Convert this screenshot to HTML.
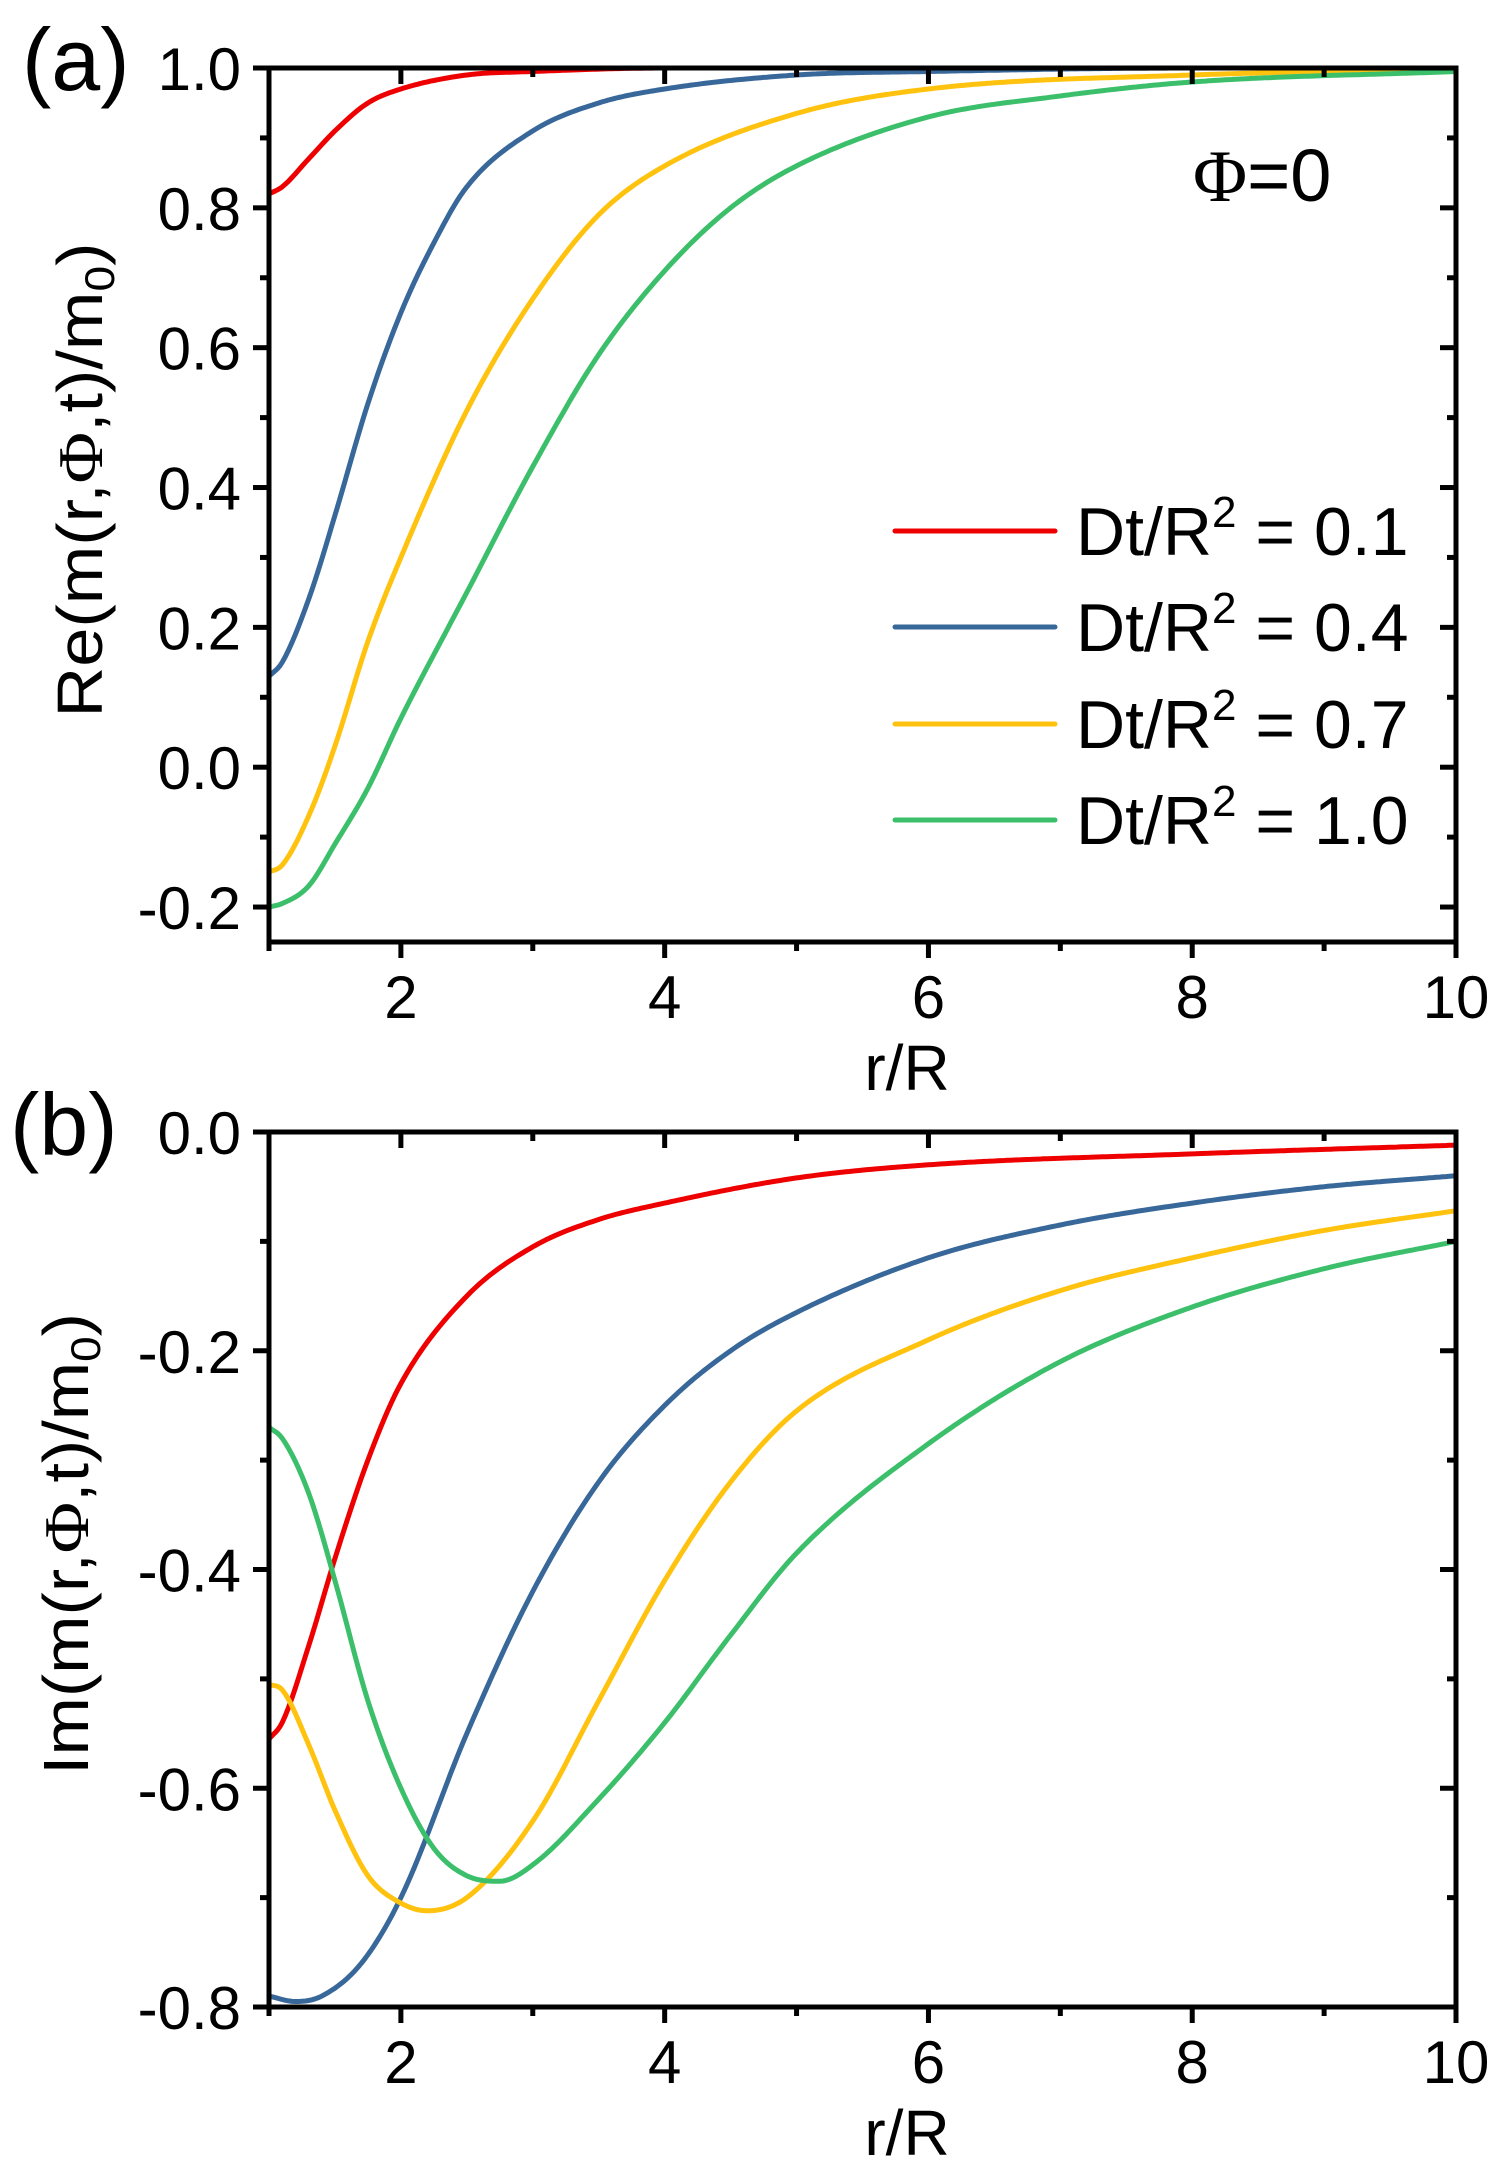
<!DOCTYPE html>
<html><head><meta charset="utf-8"><style>
html,body{margin:0;padding:0;background:#fff}
svg{display:block}
text{font-family:"Liberation Sans",Arial,sans-serif;fill:#000}
</style></head><body>
<svg id="fig" width="1498" height="2174" viewBox="0 0 1498 2174" xmlns="http://www.w3.org/2000/svg">
<g id="pa"></g>
<g id="pb"></g>
</svg>
<script>
const NS="http://www.w3.org/2000/svg";
const seriesLabels=["0.1","0.4","0.7","1.0"];
const seriesColors=["#ee0000","#386799","#ffc20e","#3cbf6a"];
const xTicks=[2,4,6,8,10];
const aYTicks=[1.0,0.8,0.6,0.4,0.2,0.0,-0.2];
const bYTicks=[0.0,-0.2,-0.4,-0.6,-0.8];
// panel a data (x, value)
const aRedX=[1,1.1,1.3,1.5,1.75,2,2.5,3,4,6,10];
const aRedY=[0.82,0.83,0.87,0.91,0.95,0.97,0.99,0.995,1,1,1];
const aBlueX=[1,1.1,1.3,1.5,1.75,2,2.25,2.5,3,3.5,4,5,6,8,10];
const aBlueY=[0.13,0.15,0.24,0.36,0.52,0.65,0.75,0.83,0.91,0.95,0.97,0.99,0.995,1,1];
const aYelX=[1,1.1,1.3,1.5,1.75,2,2.5,3,3.5,4,5,6,8,10];
const aYelY=[-0.15,-0.14,-0.07,0.03,0.18,0.30,0.51,0.67,0.79,0.86,0.935,0.97,0.99,0.998];
const aGrnX=[1,1.1,1.3,1.5,1.75,2,2.5,3,3.5,4,4.5,5,6,7,8,10];
const aGrnY=[-0.2,-0.195,-0.17,-0.11,-0.03,0.07,0.25,0.43,0.59,0.71,0.80,0.86,0.93,0.96,0.98,0.995];
// panel b data
const bRedX=[1,1.1,1.3,1.5,1.75,2,2.5,3,3.5,4,5,6,8,10];
const bRedY=[-0.555,-0.54,-0.47,-0.39,-0.3,-0.23,-0.15,-0.105,-0.08,-0.065,-0.042,-0.03,-0.02,-0.012];
const bBlueX=[1,1.2,1.4,1.7,2,2.5,3,3.5,4,4.5,5,6,7,8,9,10];
const bBlueY=[-0.79,-0.795,-0.79,-0.76,-0.7,-0.55,-0.42,-0.32,-0.25,-0.2,-0.165,-0.115,-0.085,-0.065,-0.05,-0.04];
const bYelX=[1,1.1,1.3,1.5,1.75,2,2.2,2.5,3,3.5,4,4.5,5,6,7,8,9,10];
const bYelY=[-0.505,-0.51,-0.56,-0.62,-0.68,-0.705,-0.712,-0.7,-0.63,-0.52,-0.41,-0.32,-0.255,-0.19,-0.145,-0.115,-0.09,-0.072];
const bGrnX=[1,1.1,1.3,1.5,1.75,2,2.25,2.5,2.75,3,3.5,4,4.5,5,6,7,8,9,10];
const bGrnY=[-0.27,-0.28,-0.33,-0.41,-0.52,-0.6,-0.655,-0.68,-0.685,-0.67,-0.61,-0.54,-0.46,-0.385,-0.285,-0.21,-0.16,-0.125,-0.1];

function el(tag,attrs,parent){const e=document.createElementNS(NS,tag);for(const k in attrs)e.setAttribute(k,attrs[k]);parent.appendChild(e);return e;}
function txt(parent,x,y,s,fs,anchor){const t=el('text',{x:x,y:y,'font-size':fs,'text-anchor':anchor||'start'},parent);t.textContent=s;return t;}
// monotone cubic hermite in data space
function curvePath(xs,ys,sx,sy){
  const n=xs.length,d=[],m=[];
  for(let i=0;i<n-1;i++)d.push((ys[i+1]-ys[i])/(xs[i+1]-xs[i]));
  m[0]=d[0];m[n-1]=d[n-2];
  for(let i=1;i<n-1;i++){m[i]=(d[i-1]*d[i]<=0)?0:(d[i-1]+d[i])/2;}
  for(let i=0;i<n-1;i++){
    if(d[i]===0){m[i]=0;m[i+1]=0;continue;}
    const a=m[i]/d[i],b=m[i+1]/d[i],s=a*a+b*b;
    if(s>9){const t=3/Math.sqrt(s);m[i]=t*a*d[i];m[i+1]=t*b*d[i];}
  }
  let p='M'+sx(xs[0]).toFixed(1)+','+sy(ys[0]).toFixed(1);
  for(let i=0;i<n-1;i++){
    const h=xs[i+1]-xs[i],steps=Math.max(6,Math.ceil(h*40));
    for(let k=1;k<=steps;k++){
      const t=k/steps,t2=t*t,t3=t2*t;
      const y=(2*t3-3*t2+1)*ys[i]+(t3-2*t2+t)*h*m[i]+(-2*t3+3*t2)*ys[i+1]+(t3-t2)*h*m[i+1];
      p+=' L'+sx(xs[i]+t*h).toFixed(1)+','+sy(y).toFixed(1);
    }
  }
  return p;
}

function panel(g,top,bottom,ymin,ymax,yTicks,yMinor,series,names){
  const L=269,R=1456;
  const sx=v=>L+(v-1)/9*(R-L);
  const sy=v=>top+(ymax-v)/(ymax-ymin)*(bottom-top);
  series.forEach((s,i)=>{
    const p=el('path',{d:curvePath(s[0],s[1],sx,sy),fill:'none',stroke:seriesColors[i],'stroke-width':5,'stroke-linejoin':'round'},g);
    
    
  });
  const ax=el('g',{stroke:'#000','stroke-width':5,fill:'none'},g);
  
  
  el('rect',{x:L,y:top,width:R-L,height:bottom-top},ax);
  for(let v=1;v<=10;v++){const x=sx(v),major=v%2===0,len=major?16:9;
    if(v>1&&v<10){el('line',{x1:x,y1:top,x2:x,y2:top+len},ax);}
    el('line',{x1:x,y1:bottom,x2:x,y2:bottom+len},ax);}
  yTicks.forEach(v=>{const y=sy(v);el('line',{x1:L,y1:y,x2:L-16,y2:y},ax);el('line',{x1:R,y1:y,x2:R-16,y2:y},ax);});
  yMinor.forEach(v=>{const y=sy(v);el('line',{x1:L,y1:y,x2:L-9,y2:y},ax);el('line',{x1:R,y1:y,x2:R-9,y2:y},ax);});
  const yl=el('g',{},g);
  
  
  yTicks.forEach(v=>txt(yl,241,sy(v)+22,v.toFixed(1),60,'end'));
  const xl=el('g',{},g);
  
  
  xTicks.forEach(v=>txt(xl,sx(v),bottom+76,String(v),60,'middle'));
  const xt=txt(g,907,bottom+148,'r/R',64,'middle');
  
  
}

const pa=document.getElementById('pa'),pb=document.getElementById('pb');
panel(pa,68,942,-0.25,1.0,aYTicks,[0.9,0.7,0.5,0.3,0.1,-0.1],
  [[aRedX,aRedY],[aBlueX,aBlueY],[aYelX,aYelY],[aGrnX,aGrnY]],
  ['curve-dt-0.1','curve-dt-0.4','curve-dt-0.7','curve-dt-1.0']);
panel(pb,1132,2007,-0.8,0.0,bYTicks,[-0.1,-0.3,-0.5,-0.7],
  [[bRedX,bRedY],[bBlueX,bBlueY],[bYelX,bYelY],[bGrnX,bGrnY]],
  ['curve-dt-0.1','curve-dt-0.4','curve-dt-0.7','curve-dt-1.0']);

let t=txt(pa,22,90,'(a)',88);
t=txt(pb,10,1155,'(b)',88);
t=el('text',{x:1193,y:201,'font-size':74},pa);
t.innerHTML='<tspan font-family="Liberation Serif,serif">Φ</tspan>=0';

t=el('text',{transform:'translate(102,480) rotate(-90)','text-anchor':'middle','font-size':64,textLength:475,lengthAdjust:'spacingAndGlyphs'},pa);
t.innerHTML='Re(m(r,<tspan font-family="Liberation Serif,serif">Φ</tspan>,t)/m<tspan font-size="42" dy="12">0</tspan><tspan dy="-12">)</tspan>';

t=el('text',{transform:'translate(88,1544) rotate(-90)','text-anchor':'middle','font-size':64,textLength:462,lengthAdjust:'spacingAndGlyphs'},pb);
t.innerHTML='Im(m(r,<tspan font-family="Liberation Serif,serif">Φ</tspan>,t)/m<tspan font-size="42" dy="12">0</tspan><tspan dy="-12">)</tspan>';

const lg=el('g',{},pa);


const legY=[531,627,724,820];
seriesLabels.forEach((s,i)=>{
  const row=el('g',{},lg);
  
  
  el('line',{x1:895,y1:legY[i],x2:1055,y2:legY[i],stroke:seriesColors[i],'stroke-width':5,'stroke-linecap':'round'},row);
  const tt=el('text',{x:1076,y:legY[i]+24,'font-size':68},row);
  tt.innerHTML='Dt/R<tspan font-size="44" dy="-28">2</tspan><tspan dy="28"> = '+s+'</tspan>';
});
</script>
</body></html>
